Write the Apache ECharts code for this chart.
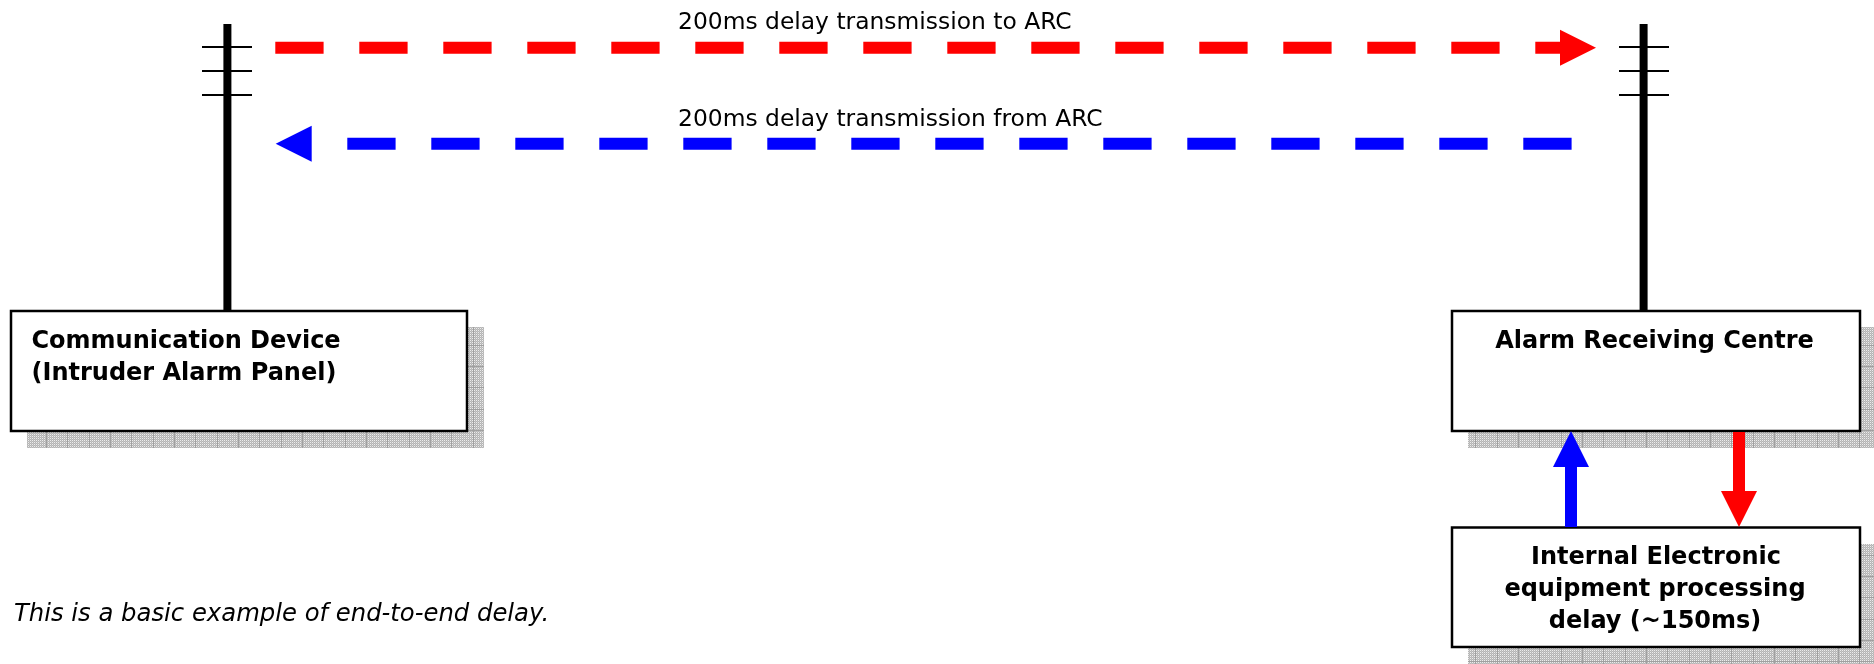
<!DOCTYPE html>
<html><head><meta charset="utf-8">
<style>html,body{margin:0;padding:0;background:#fff}#c{width:1874px;height:664px}</style>
<script src="https://cdn.jsdelivr.net/npm/echarts@6/dist/echarts.min.js"></script>
</head><body><div id="c"></div>
<script>
// Diagram geometry, in diagram units (1 unit = 1 reference pixel)
const boxes = [[11, 311, 467, 431], [1452, 311, 1860, 431], [1452, 527.5, 1860, 647]];
const shadows = [[27, 327, 484, 448, 0], [1468, 327, 1877, 448, 0], [1468, 544, 1877, 670, 18]];
const poles = [[227.4, 24, 311], [1643.6, 24, 311]];
const crossbars = [[202, 252, 47], [202, 252, 71], [202, 252, 95], [1619, 1669, 47], [1619, 1669, 71], [1619, 1669, 95]];
const redDash = [[275.3, 47.7], [1562, 47.7]];
const blueDash = [[347.3, 143.7], [1572, 143.7]];
const redShaft = [[1739, 432], [1739, 492]];
const blueShaft = [[1571, 527], [1571, 466]];
const redHeads = [[[1560, 29.7], [1596, 47.7], [1560, 65.7]], [[1721, 491], [1757, 491], [1739, 527]]];
const blueHeads = [[[311.7, 125.7], [275.7, 143.7], [311.7, 161.7]], [[1553, 467], [1589, 467], [1571, 431]]];
const plainTexts = [
  ['200ms delay transmission to ARC', 678, 23],
  ['200ms delay transmission from ARC', 678, 120]
];
const boldTexts = [
  ['Communication Device', 31.5, 342, 'left'],
  ['(Intruder Alarm Panel)', 31.5, 374, 'left'],
  ['Alarm Receiving Centre', 1654.5, 342, 'center'],
  ['Internal Electronic', 1656, 558, 'center'],
  ['equipment processing', 1655, 590, 'center'],
  ['delay (~150ms)', 1655, 622, 'center']
];
const noteTexts = [['This is a basic example of end-to-end delay.', 14, 615]];

const FONT = '"DejaVu Sans",sans-serif';

function shadowTile(dy) {
  const c = document.createElement('canvas');
  c.width = c.height = 64;
  const g = c.getContext('2d');
  for (let y = 0; y < 64; y++) for (let x = 0; x < 64; x++) {
    const v = (x % 2 === 0 && y % 2 === 0) ? 236 : (x + y) % 2 === 0 ? 196 : 180;
    g.fillStyle = `rgb(${v},${v},${v})`;
    g.fillRect(x, y, 1, 1);
  }
  g.fillStyle = '#a0a0a0';
  [3, 25, 46].forEach(p => {
    g.fillRect(p, 0, 1, 64);
    g.fillRect(0, (p + dy) % 64, 64, 1);
  });
  return { image: c, repeat: 'repeat' };
}

function rectSeries(data, z, styleOf) {
  return {
    type: 'custom', coordinateSystem: 'cartesian2d', silent: true, clip: true, z,
    data: data.map((d, i) => ({ value: d })),
    renderItem(p, api) {
      const a = api.coord([api.value(0), api.value(1)]);
      const b = api.coord([api.value(2), api.value(3)]);
      return { type: 'rect', shape: { x: a[0], y: a[1], width: b[0] - a[0], height: b[1] - a[1] }, style: styleOf(api.value(4)) };
    }
  };
}
function polySeries(heads, color, z) {
  return {
    type: 'custom', coordinateSystem: 'cartesian2d', silent: true, z,
    data: heads.map(h => ({ value: h.flat() })),
    renderItem(p, api) {
      const pts = [];
      for (let i = 0; i < 3; i++) pts.push(api.coord([api.value(i * 2), api.value(i * 2 + 1)]));
      return { type: 'polygon', shape: { points: pts }, style: { fill: color } };
    }
  };
}
function lineSeries(data, color, width, type, z) {
  return { type: 'line', data, symbol: 'none', silent: true, clip: false, z, animation: false,
    lineStyle: { color, width, type, cap: 'butt' } };
}
function textSeries(rows, font, size, weight, italic, z) {
  return {
    type: 'custom', coordinateSystem: 'cartesian2d', silent: true, z,
    data: rows.map(r => ({ value: [r[1], r[2]] })),
    renderItem(p, api) {
      const c = api.coord([api.value(0), api.value(1)]);
      return { type: 'text', x: c[0], y: c[1], style: {
        text: rows[p.dataIndex][0], fill: '#000', fontFamily: font, fontSize: size, fontWeight: weight,
        fontStyle: italic ? 'italic' : 'normal', align: rows[p.dataIndex][3] || 'left', verticalAlign: 'middle' } };
    }
  };
}

const series = [];
shadows.forEach(s => {
  const fill = shadowTile(s[4]);
  series.push(rectSeries([s], 1, () => ({ fill })));
});
poles.forEach(p => series.push(lineSeries([[p[0], p[1]], [p[0], p[2]]], '#000', 8, 'solid', 2)));
crossbars.forEach(b => series.push(lineSeries([[b[0], b[2]], [b[1], b[2]]], '#000', 2, 'solid', 2)));
series.push(rectSeries(boxes, 3, () => ({ fill: '#fff', stroke: '#000', lineWidth: 2.5 })));
series.push(lineSeries(redDash, '#ff0000', 12, [48.3, 35.7], 4));
series.push(lineSeries(blueDash, '#0000ff', 12, [48.3, 35.7], 4));
series.push(lineSeries(redShaft, '#ff0000', 12, 'solid', 4));
series.push(lineSeries(blueShaft, '#0000ff', 12, 'solid', 4));
series.push(polySeries(redHeads, '#ff0000', 5));
series.push(polySeries(blueHeads, '#0000ff', 5));
series.push(textSeries(plainTexts, FONT, 23.4, 'normal', false, 6));
series.push(textSeries(boldTexts, FONT, 24, 'bold', false, 6));
series.push(textSeries(noteTexts, FONT, 24.3, 'normal', true, 6));

const chart = echarts.init(document.getElementById('c'), null, { renderer: 'canvas' });
chart.setOption({
  animation: false,
  backgroundColor: '#fff',
  grid: { left: 0, right: 0, top: 0, bottom: 0 },
  xAxis: { type: 'value', min: 0, max: 1874, show: false },
  yAxis: { type: 'value', min: 0, max: 664, inverse: true, show: false },
  tooltip: { show: false },
  series
});
</script></body></html>
